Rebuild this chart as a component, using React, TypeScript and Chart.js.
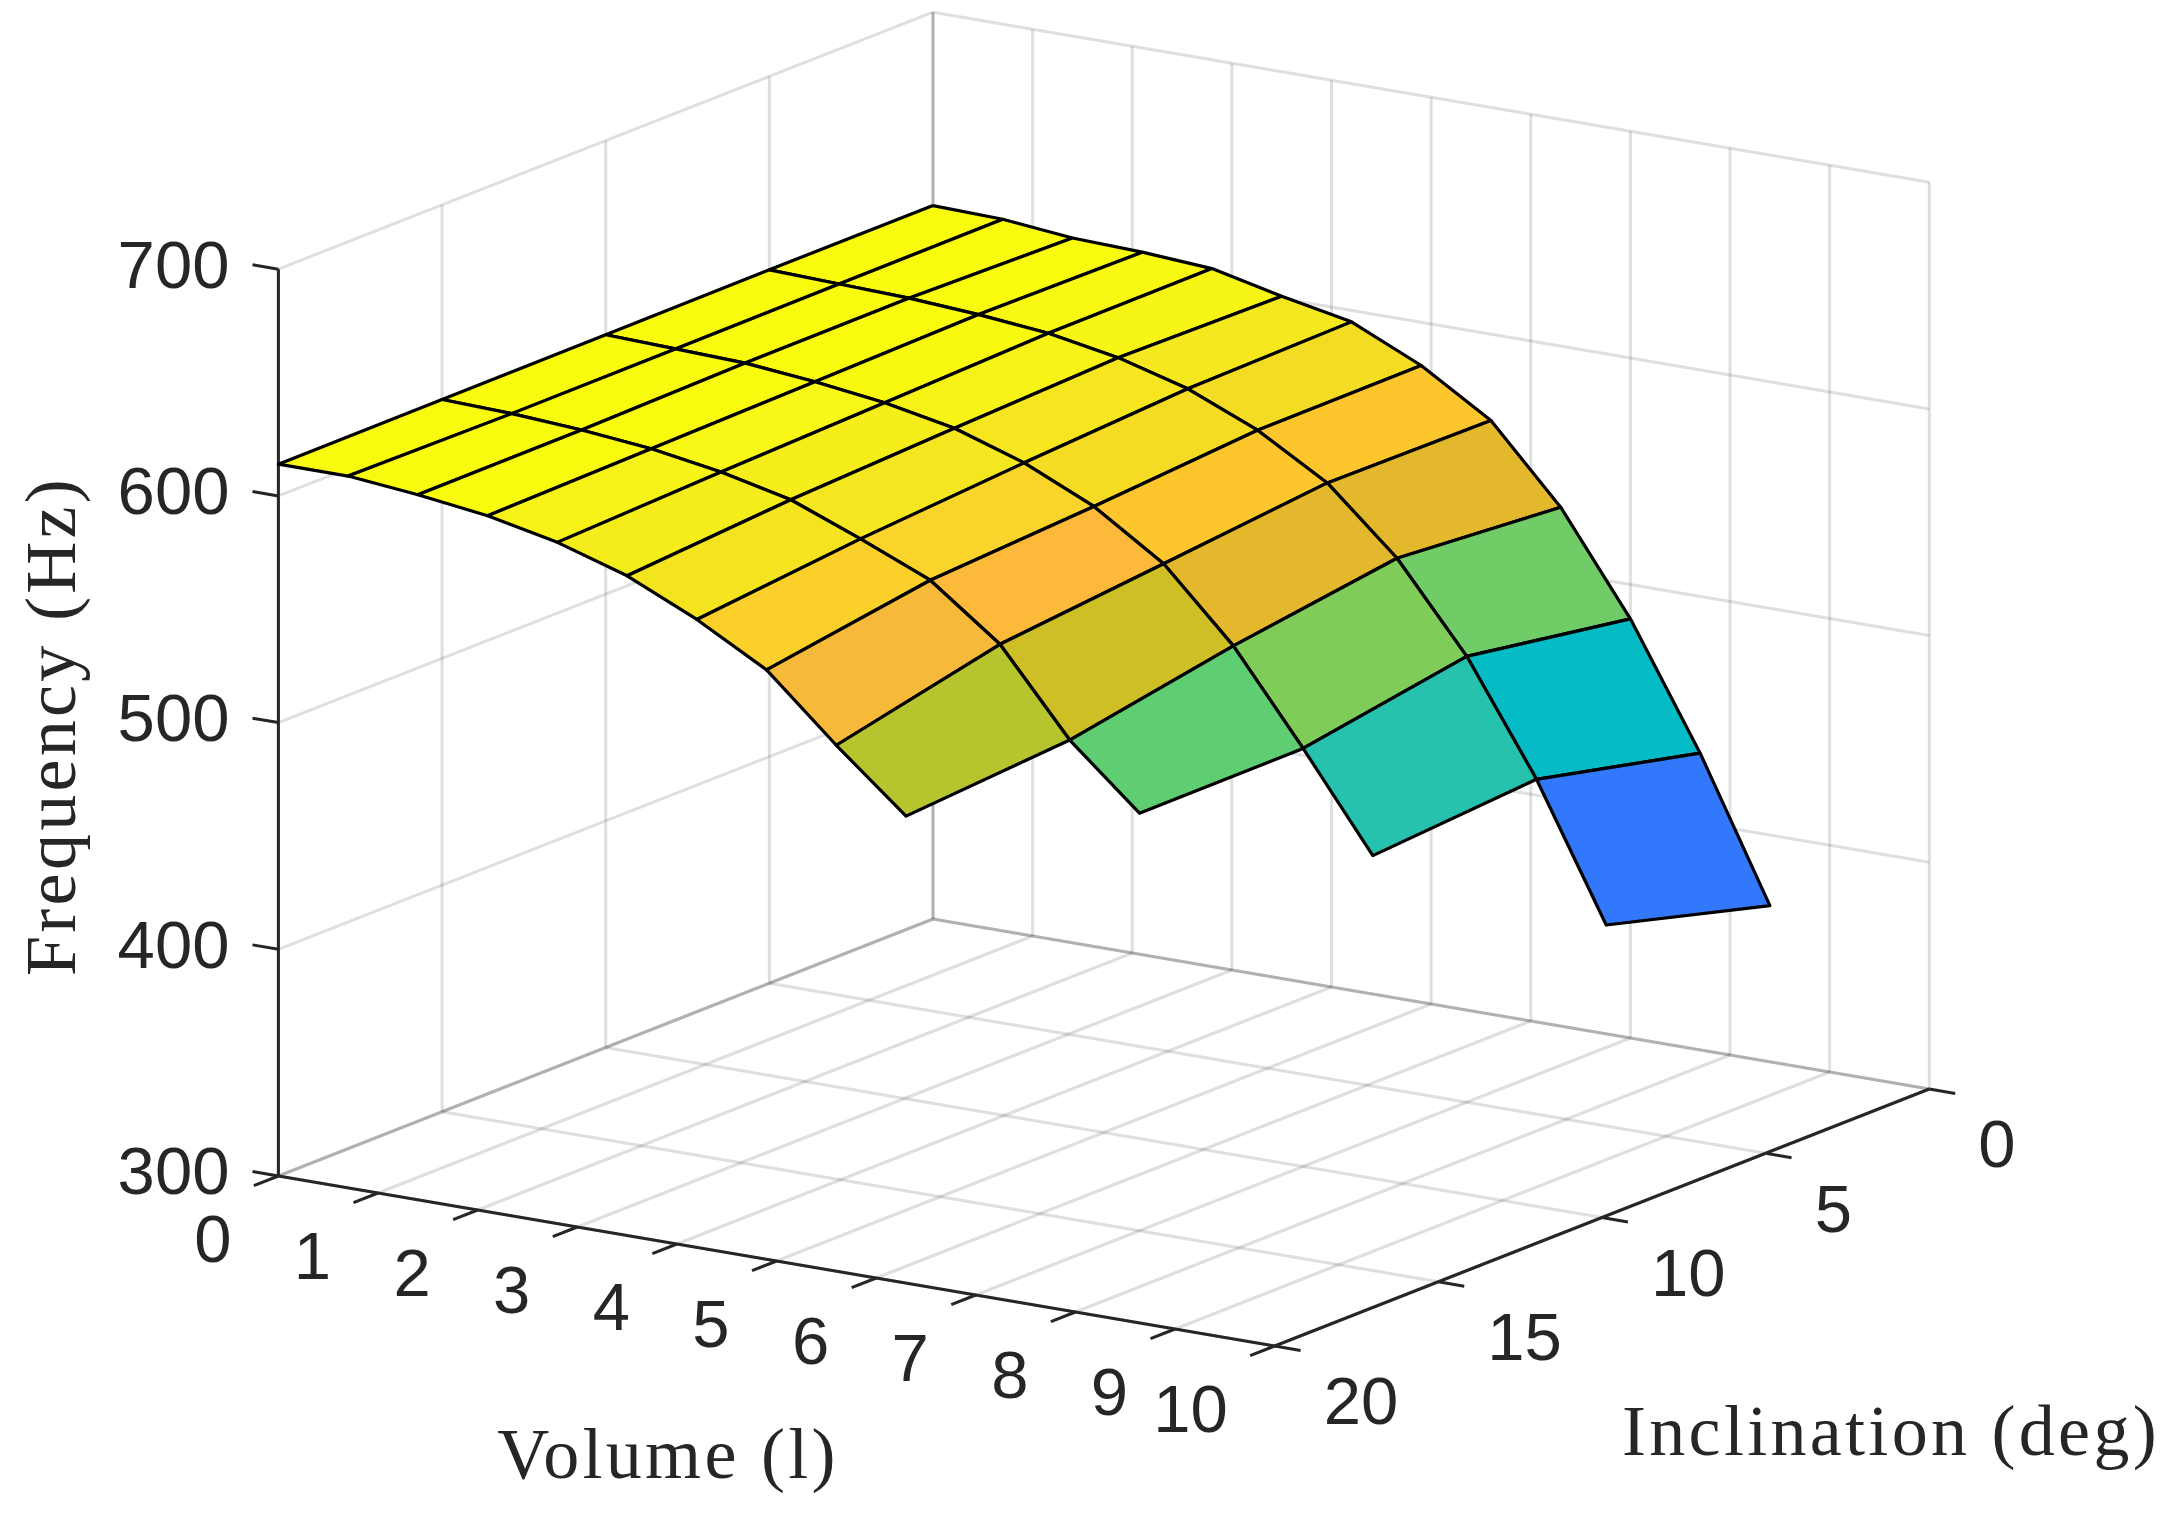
import React, { useEffect, useRef } from "react";
import { Chart, registerables } from "chart.js";

Chart.register(...registerables);

const W = 2176;
const H = 1514;

// ---- axis ticks ----
const volumeTicks = [0, 1, 2, 3, 4, 5, 6, 7, 8, 9, 10];
const inclinationTicks = [0, 5, 10, 15, 20];
const frequencyTicks = [300, 400, 500, 600, 700];

// ---- sampled surface ----
const volumes = [0, 0.7, 1.4, 2.1, 2.8, 3.5, 4.2, 4.9, 5.6, 6.3, 7.0, 7.7, 8.4];
const inclinations = [0, 5, 10, 15, 20];
const freqAt0 = [614.7, 613.9, 610.9, 609.9, 607.9, 600.9, 594.9, 580.9, 561.9, 528.9, 484.9, 430.9, 368.9];
const freqAt5 = [614.7, 613.7, 612.7, 610.7, 607.7, 602.2, 593.7, 580.7, 562.7, 534.7, 496.7, 447.7, 388.7];
const freqAt10 = [614.4, 613.4, 612.4, 609.4, 605.4, 599.4, 589.4, 575.4, 555.4, 524.4, 484.4, 442.4];
const freqAt15 = [614.2, 613.2, 611.2, 608.2, 603.2, 596.2, 584.2, 571.2, 548.2, 511.2, 484.2];
const freqAt20 = [614, 614, 611, 607, 600.5, 591, 577, 560, 532, 506];
const frequencies = [freqAt0, freqAt5, freqAt10, freqAt15, freqAt20];

// ---- facet colours, one row per inclination band ----
const Y = "#f9fb0e";
const coloursBand0to5 = [Y, Y, Y, "#f8f812", "#f7f516", "#f5e81f", "#f5dc24", "#fdc62d", "#e3b82c", "#70cc66", "#04bbc6", "#3278fd"];
const coloursBand5to10 = [Y, Y, Y, "#f9f90f", "#f7f317", "#f5e61f", "#f5db24", "#fdc62d", "#e3b82c", "#7fcc58", "#26c2ad"];
const coloursBand10to15 = [Y, Y, Y, "#f8f715", "#f5ee1a", "#f4e720", "#f9d42a", "#fdb93a", "#cfbf27", "#5fcd72"];
const coloursBand15to20 = [Y, Y, Y, "#f7f318", "#f5ec1c", "#f4e31f", "#fbd02a", "#f6b93a", "#b6c52e"];
const bandColours = [coloursBand0to5, coloursBand5to10, coloursBand10to15, coloursBand15to20];

// ---- view of the 3D box: pixels of screen per data unit ----
const ORIGIN = { x: 278.4, y: 1176 };
const PER_VOLUME = { x: 99.63, y: 17.0 };
const PER_INCLINATION = { x: -32.73, y: 12.85 };
const PER_HZ = -2.267;
const BASE_INCL = 20;
const BASE_FREQ = 300;

function project(v: number, i: number, f: number) {
  return {
    x: ORIGIN.x + v * PER_VOLUME.x + (i - BASE_INCL) * PER_INCLINATION.x,
    y: ORIGIN.y + v * PER_VOLUME.y + (i - BASE_INCL) * PER_INCLINATION.y + (f - BASE_FREQ) * PER_HZ,
  };
}

const GRID = "rgba(38,38,38,0.15)";
const EDGE = "rgba(38,38,38,0.12)";
const AXIS = "#262626";
const TEXT = "#262626";
const GRID_W = 3;
const AXIS_W = 3;

function lineDs(a: number[], b: number[], color: string, width: number, order: number) {
  return {
    data: [project(a[0], a[1], a[2]), project(b[0], b[1], b[2])],
    showLine: true,
    borderColor: color,
    borderWidth: width,
    pointRadius: 0,
    fill: false,
    clip: false,
    order,
    borderCapStyle: "butt",
  };
}

function buildDatasets() {
  const out: any[] = [];
  const vMin = volumeTicks[0];
  const vMax = volumeTicks[volumeTicks.length - 1];
  const iBack = inclinationTicks[0];
  const iFront = inclinationTicks[inclinationTicks.length - 1];
  const fMin = frequencyTicks[0];
  const fMax = frequencyTicks[frequencyTicks.length - 1];

  for (const v of volumeTicks) {
    out.push(lineDs([v, iBack, fMin], [v, iBack, fMax], GRID, GRID_W, 5000));
    out.push(lineDs([v, iBack, fMin], [v, iFront, fMin], GRID, GRID_W, 5000));
  }
  for (const i of inclinationTicks) {
    out.push(lineDs([vMin, i, fMin], [vMin, i, fMax], GRID, GRID_W, 5000));
    out.push(lineDs([vMin, i, fMin], [vMax, i, fMin], GRID, GRID_W, 5000));
  }
  for (const f of frequencyTicks) {
    out.push(lineDs([vMin, iFront, f], [vMin, iBack, f], GRID, GRID_W, 5000));
    out.push(lineDs([vMin, iBack, f], [vMax, iBack, f], GRID, GRID_W, 5000));
  }
  // darker back edges of the box
  out.push(lineDs([vMin, iBack, fMin], [vMin, iBack, fMax], EDGE, GRID_W, 4900));
  out.push(lineDs([vMin, iBack, fMin], [vMin, iFront, fMin], EDGE, GRID_W, 4900));
  out.push(lineDs([vMin, iBack, fMin], [vMax, iBack, fMin], EDGE, GRID_W, 4900));

  // axes and ticks
  out.push(lineDs([vMin, iFront, fMin], [vMin, iFront, fMax], AXIS, AXIS_W, 4000));
  out.push(lineDs([vMin, iFront, fMin], [vMax, iFront, fMin], AXIS, AXIS_W, 4000));
  out.push(lineDs([vMax, iFront, fMin], [vMax, iBack, fMin], AXIS, AXIS_W, 4000));
  for (const v of volumeTicks) out.push(lineDs([v, iFront, fMin], [v, iFront + 0.75, fMin], AXIS, AXIS_W, 4000));
  for (const i of inclinationTicks) out.push(lineDs([vMax, i, fMin], [vMax + 0.26, i, fMin], AXIS, AXIS_W, 4000));
  for (const f of frequencyTicks) out.push(lineDs([vMin, iFront, f], [vMin - 0.26, iFront, f], AXIS, AXIS_W, 4000));

  // surface, painted from the back to the front
  let order = 3000;
  bandColours.forEach((row, band) => {
    row.forEach((colour, k) => {
      const i0 = inclinations[band];
      const i1 = inclinations[band + 1];
      const f0 = frequencies[band];
      const f1 = frequencies[band + 1];
      const pts = [
        project(volumes[k], i0, f0[k]),
        project(volumes[k + 1], i0, f0[k + 1]),
        project(volumes[k + 1], i1, f1[k + 1]),
        project(volumes[k], i1, f1[k]),
      ];
      pts.push(pts[0]);
      out.push({
        data: pts,
        showLine: true,
        backgroundColor: colour,
        borderColor: "#000000",
        borderWidth: 3.2,
        borderJoinStyle: "round",
        pointRadius: 0,
        fill: "shape",
        tension: 0,
        clip: false,
        order: order--,
      });
    });
  });
  return out;
}

const labelPlugin = {
  id: "boxLabels",
  afterDraw(chart: any) {
    const { ctx, scales } = chart;
    const px = (p: { x: number; y: number }) => ({
      x: scales.x.getPixelForValue(p.x),
      y: scales.y.getPixelForValue(p.y),
    });
    const vMax = volumeTicks[volumeTicks.length - 1];
    const iFront = inclinationTicks[inclinationTicks.length - 1];
    const fMin = frequencyTicks[0];
    ctx.save();
    ctx.fillStyle = TEXT;
    ctx.textBaseline = "middle";
    ctx.font = '67px "Liberation Sans", Arial, sans-serif';

    ctx.textAlign = "right";
    for (const f of frequencyTicks) {
      const p = px(project(0, iFront, f));
      ctx.fillText(String(f), p.x - 49, p.y);
    }
    for (const v of volumeTicks) {
      const p = px(project(v, iFront, fMin));
      ctx.fillText(String(v), p.x - 47, p.y + 68);
    }
    ctx.textAlign = "left";
    for (const i of inclinationTicks) {
      const p = px(project(vMax, i, fMin));
      ctx.fillText(String(i), p.x + 49, p.y + 60);
    }

    ctx.textBaseline = "alphabetic";
    ctx.textAlign = "center";
    ctx.font = '72px "Liberation Serif", "Times New Roman", serif';
    ctx.letterSpacing = "3.3px";
    ctx.fillText("Volume (l)", 668, 1478);
    ctx.fillText("Inclination (deg)", 1891, 1455);
    ctx.save();
    ctx.translate(75, 726);
    ctx.rotate(-Math.PI / 2);
    ctx.fillText("Frequency (Hz)", 0, 0);
    ctx.restore();
    ctx.restore();
  },
};

export default function App() {
  const ref = useRef<HTMLCanvasElement | null>(null);
  useEffect(() => {
    const canvas = ref.current!;
    const chart = new Chart(canvas, {
      type: "scatter",
      data: { datasets: buildDatasets() },
      options: {
        animation: false,
        responsive: false,
        devicePixelRatio: 1,
        layout: { padding: 0 },
        scales: {
          x: { type: "linear", min: 0, max: W, display: false },
          y: { type: "linear", min: 0, max: H, reverse: true, display: false },
        },
        plugins: { legend: { display: false }, tooltip: { enabled: false } },
      },
      plugins: [labelPlugin],
    } as any);
    return () => chart.destroy();
  }, []);
  return (
    <canvas
      ref={ref}
      width={W}
      height={H}
      style={{ position: "absolute", left: 0, top: 0, width: W, height: H, background: "#ffffff" }}
    />
  );
}
